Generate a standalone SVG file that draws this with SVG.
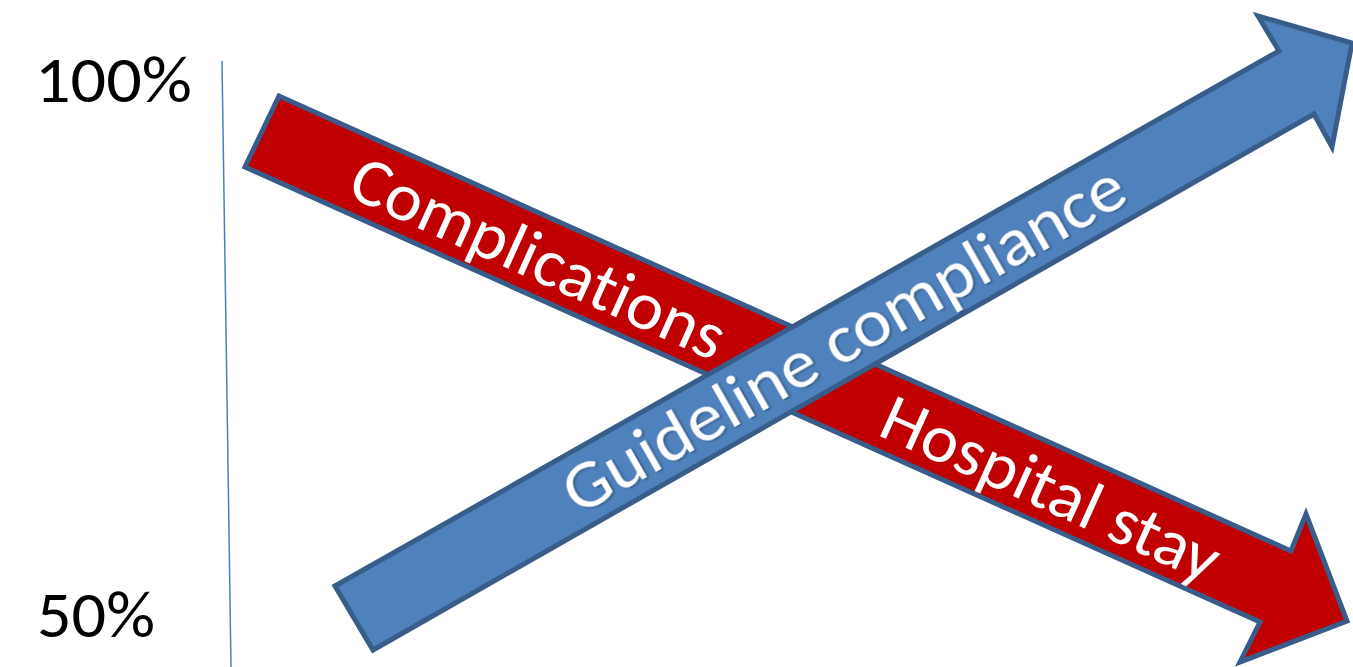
<svg xmlns="http://www.w3.org/2000/svg" width="1353" height="667" viewBox="0 0 1353 667">
  <defs>
    <style>
      .lbl { font-family: Carlito, Lato, "Liberation Sans", sans-serif; font-size: 65px; fill: #000000; font-variant-ligatures: none; }
      .arr-text { font-family: Carlito, Lato, "Liberation Sans", sans-serif; font-size: 68px; fill: #ffffff; font-variant-ligatures: none; }
      .arrow { stroke: #385d8a; stroke-width: 5; stroke-linejoin: miter; }
    </style>
    <filter id="shadow" x="-5%" y="-20%" width="110%" height="140%">
      <feDropShadow dx="1.5" dy="1.5" stdDeviation="1" flood-color="#000000" flood-opacity="0.35"/>
    </filter>
  </defs>
  <rect width="1353" height="667" fill="#ffffff"/>

  <g id="axis">
    <line x1="222" y1="61" x2="231" y2="667" stroke="#4a7ebb" stroke-width="1.5"/>
    <text class="lbl" x="35" y="102" textLength="157" lengthAdjust="spacingAndGlyphs">100%</text>
    <text class="lbl" x="37" y="637" textLength="118" lengthAdjust="spacingAndGlyphs">50%</text>
  </g>

  <g id="connectors">
    <g id="red-arrow">
      <polygon class="arrow" fill="#c00000" points="279,96 1291,551 1306,514 1347,621 1240,662 1260,622 245,167"/>
      <g transform="translate(262,131.5) rotate(24.25)">
        <text class="arr-text" x="102" y="24" textLength="404" lengthAdjust="spacingAndGlyphs">Complications</text>
        <text class="arr-text" x="684" y="24" textLength="364" lengthAdjust="spacingAndGlyphs">Hospital stay</text>
      </g>
    </g>
    <g id="blue-arrow">
      <polygon class="arrow" fill="#4f81bd" points="335,586 1279,51 1258,16 1352,43 1332,147 1314,114 373,650"/>
      <g transform="translate(352.5,618.5) rotate(-29.7)">
        <text class="arr-text" x="247" y="23" textLength="636" lengthAdjust="spacingAndGlyphs" filter="url(#shadow)">Guideline compliance</text>
      </g>
    </g>
  </g>
</svg>
